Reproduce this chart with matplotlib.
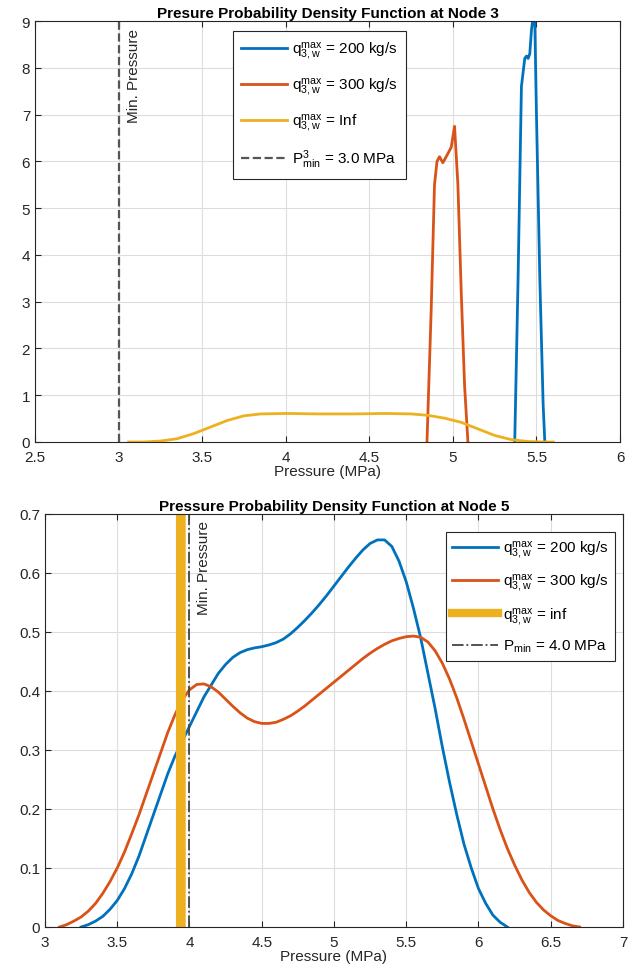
import numpy as np
import matplotlib
matplotlib.use("Agg")
import matplotlib.pyplot as plt

plt.rcParams["font.family"] = ["Liberation Sans", "DejaVu Sans"]
plt.rcParams["mathtext.fontset"] = "custom"
plt.rcParams["mathtext.rm"] = "Liberation Sans"
plt.rcParams["mathtext.it"] = "Liberation Sans"

BLUE = "#0072BD"
ORANGE = "#D95319"
YELLOW = "#EDB120"

# Node 3 densities
n3_blue_x = [5.37, 5.39, 5.41, 5.43, 5.44, 5.45, 5.46, 5.47, 5.48, 5.49, 5.50, 5.52, 5.54, 5.55]
n3_blue_y = [0.0, 3.5, 7.6, 8.2, 8.25, 8.2, 8.3, 8.8, 9.1, 9.0, 7.0, 3.5, 0.8, 0.0]
n3_orange_x = [4.845, 4.87, 4.89, 4.905, 4.92, 4.94, 4.96, 4.99, 5.01, 5.03, 5.05, 5.07, 5.09]
n3_orange_y = [0.0, 2.8, 5.5, 6.0, 6.1, 5.97, 6.1, 6.3, 6.75, 5.5, 3.2, 1.2, 0.0]
n3_yellow_x = [3.06, 3.15, 3.25, 3.35, 3.45, 3.55, 3.65, 3.75, 3.85, 4.0, 4.2, 4.4, 4.6,
               4.75, 4.85, 4.95, 5.05, 5.15, 5.25, 5.35, 5.45, 5.55, 5.6]
n3_yellow_y = [0.0, 0.0, 0.02, 0.07, 0.18, 0.32, 0.46, 0.56, 0.6, 0.61, 0.6, 0.6, 0.61,
               0.6, 0.57, 0.51, 0.42, 0.28, 0.14, 0.05, 0.01, 0.0, 0.0]

# Node 5 densities
n5_blue_x = [3.25, 3.30, 3.35, 3.40, 3.45, 3.50, 3.55, 3.60, 3.65, 3.70, 3.75, 3.80, 3.85,
             3.90, 3.95, 4.00, 4.05, 4.10, 4.15, 4.20, 4.25, 4.30, 4.35, 4.40, 4.45, 4.50,
             4.55, 4.60, 4.65, 4.70, 4.75, 4.80, 4.85, 4.90, 4.95, 5.00, 5.05, 5.10, 5.15,
             5.20, 5.25, 5.30, 5.35, 5.40, 5.45, 5.50, 5.55, 5.60, 5.65, 5.70, 5.75, 5.80,
             5.85, 5.90, 5.95, 6.00, 6.05, 6.10, 6.15, 6.20]
n5_blue_y = [0.0, 0.004, 0.01, 0.018, 0.03, 0.045, 0.065, 0.09, 0.12, 0.155, 0.19, 0.225,
             0.26, 0.29, 0.315, 0.34, 0.365, 0.39, 0.41, 0.43, 0.445, 0.457, 0.465, 0.47,
             0.473, 0.475, 0.478, 0.482, 0.488, 0.497, 0.508, 0.52, 0.533, 0.547, 0.562,
             0.578, 0.594, 0.61, 0.625, 0.639, 0.65, 0.656, 0.656, 0.645, 0.62, 0.585, 0.54,
             0.49, 0.43, 0.37, 0.305, 0.245, 0.19, 0.14, 0.1, 0.065, 0.04, 0.02, 0.008, 0.0]
n5_orange_x = [3.10, 3.15, 3.20, 3.25, 3.30, 3.35, 3.40, 3.45, 3.50, 3.55, 3.60, 3.65, 3.70,
               3.75, 3.80, 3.85, 3.90, 3.95, 4.00, 4.05, 4.10, 4.15, 4.20, 4.25, 4.30, 4.35,
               4.40, 4.45, 4.50, 4.55, 4.60, 4.65, 4.70, 4.75, 4.80, 4.85, 4.90, 4.95, 5.00,
               5.05, 5.10, 5.15, 5.20, 5.25, 5.30, 5.35, 5.40, 5.45, 5.50, 5.55, 5.60, 5.65,
               5.70, 5.75, 5.80, 5.85, 5.90, 5.95, 6.00, 6.05, 6.10, 6.15, 6.20, 6.25, 6.30,
               6.35, 6.40, 6.45, 6.50, 6.55, 6.60, 6.65, 6.70]
n5_orange_y = [0.0, 0.004, 0.01, 0.017, 0.027, 0.04, 0.057, 0.077, 0.1, 0.127, 0.158, 0.19,
               0.225, 0.26, 0.295, 0.33, 0.36, 0.385, 0.402, 0.411, 0.412, 0.407, 0.398,
               0.386, 0.374, 0.363, 0.354, 0.348, 0.345, 0.345, 0.347, 0.352, 0.358, 0.366,
               0.375, 0.385, 0.395, 0.405, 0.415, 0.425, 0.435, 0.445, 0.455, 0.464, 0.472,
               0.479, 0.485, 0.489, 0.492, 0.493, 0.491, 0.483, 0.468, 0.447, 0.42, 0.388,
               0.352, 0.314, 0.276, 0.238, 0.2, 0.165, 0.133, 0.105, 0.08, 0.059, 0.042,
               0.029, 0.019, 0.011, 0.006, 0.002, 0.0]
n5_yellow_x = [3.935, 3.94, 3.945]
n5_yellow_y = [0.0, 50.0, 0.0]

pmin3 = 3.0
pmin5 = 4.0


def style_axes(ax):
    ax.grid(True, color="#dddddd", linewidth=0.8)
    ax.set_axisbelow(True)
    ax.tick_params(direction="in", top=True, right=False, labelsize=11,
                   colors="#262626", length=4)
    ax.tick_params(axis="x", pad=6)
    for s in ax.spines.values():
        s.set_color("#262626")
        s.set_linewidth(0.8)


fig = plt.figure(figsize=(6.41, 9.79), dpi=100)

# ---- top panel
ax1 = fig.add_axes([0.0546, 0.5475, 0.9127, 0.430])
ax1.plot(n3_blue_x, n3_blue_y, color=BLUE, lw=2,
         label=r"$\mathrm{q^{max}_{3,w}}$ = 200 kg/s")
ax1.plot(n3_orange_x, n3_orange_y, color=ORANGE, lw=2,
         label=r"$\mathrm{q^{max}_{3,w}}$ = 300 kg/s")
ax1.plot(n3_yellow_x, n3_yellow_y, color=YELLOW, lw=2,
         label=r"$\mathrm{q^{max}_{3,w}}$ = Inf")
ax1.axvline(pmin3, color="#555555", ls="--", lw=1.6,
            label=r"$\mathrm{P^{3}_{min}}$ = 3.0 MPa")
ax1.text(3.05, 8.85, "Min. Pressure", rotation=90, va="top", ha="left",
         fontsize=11, color="#262626")
ax1.set_xlim(2.5, 6)
ax1.set_ylim(0, 9)
ax1.set_xticks(np.arange(2.5, 6.01, 0.5))
ax1.set_xticklabels(["2.5", "3", "3.5", "4", "4.5", "5", "5.5", "6"])
ax1.set_yticks(range(0, 10))
style_axes(ax1)
ax1.set_xlabel("Pressure (MPa)", fontsize=11, labelpad=0, color="#262626")
ax1.set_title("Presure Probability Density Function at Node 3", fontsize=11,
              fontweight="bold", pad=3)
leg1 = ax1.legend(loc="upper left", bbox_to_anchor=(0.325, 0.995), fontsize=11,
                  fancybox=False, edgecolor="#262626", framealpha=1,
                  handlelength=3.0, handletextpad=0.3, labelspacing=0.95,
                  borderpad=0.55)
leg1.get_frame().set_linewidth(0.8)

# ---- bottom panel
ax2 = fig.add_axes([0.0702, 0.0521, 0.9017, 0.4219])
ax2.plot(n5_blue_x, n5_blue_y, color=BLUE, lw=2,
         label=r"$\mathrm{q^{max}_{3,w}}$ = 200 kg/s")
ax2.plot(n5_orange_x, n5_orange_y, color=ORANGE, lw=2,
         label=r"$\mathrm{q^{max}_{3,w}}$ = 300 kg/s")
ax2.plot(n5_yellow_x, n5_yellow_y, color=YELLOW, lw=6,
         label=r"$\mathrm{q^{max}_{3,w}}$ = inf")
ax2.axvline(pmin5, color="#444444", ls="-.", lw=1.3,
            label=r"$\mathrm{P_{min}}$ = 4.0 MPa")
ax2.text(4.05, 0.69, "Min. Pressure", rotation=90, va="top", ha="left",
         fontsize=11, color="#262626")
ax2.set_xlim(3, 7)
ax2.set_ylim(0, 0.7)
ax2.set_xticks(np.arange(3, 7.01, 0.5))
ax2.set_xticklabels(["3", "3.5", "4", "4.5", "5", "5.5", "6", "6.5", "7"])
ax2.set_yticks(np.arange(0, 0.71, 0.1))
ax2.set_yticklabels(["0", "0.1", "0.2", "0.3", "0.4", "0.5", "0.6", "0.7"])
style_axes(ax2)
ax2.set_xlabel("Pressure (MPa)", fontsize=11, labelpad=0, color="#262626")
ax2.set_title("Pressure Probability Density Function at Node 5", fontsize=11,
              fontweight="bold", pad=3)
leg2 = ax2.legend(loc="upper right", bbox_to_anchor=(1.0, 0.975), fontsize=11,
                  fancybox=False, edgecolor="#262626", framealpha=1,
                  handlelength=3.0, handletextpad=0.3, labelspacing=0.75,
                  borderpad=0.45)
leg2.get_frame().set_linewidth(0.8)

fig.savefig("out.png", dpi=100)
